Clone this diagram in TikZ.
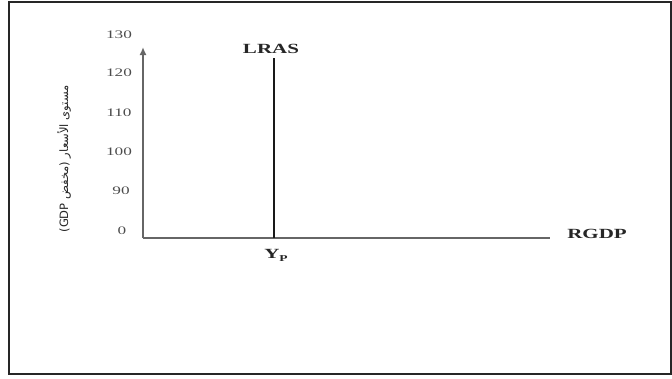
\documentclass[tikz,border=0pt]{standalone}
\usepackage{fontspec}
\setmainfont{Liberation Serif}
\newfontfamily\widefont[FakeStretch=1.5]{Liberation Serif}
\newfontfamily\arabicfont[Script=Arabic]{DejaVu Sans}
\TeXXeTstate=1
\usetikzlibrary{arrows.meta}
\tikzset{
  ticklabel/.style={font=\widefont\fontsize{11.5}{13}\selectfont, text=black!70},
  curvelabel/.style={font=\widefont\bfseries\fontsize{14}{16}\selectfont, text=black!85},
  axisline/.style={draw=black!60, line width=1.6pt},
}
\begin{document}
\begin{tikzpicture}[x=1pt, y=-1pt]
			\useasboundingbox (0,0) rectangle (672,378);
			\draw[black!85, line width=2pt] (9,2) rectangle (671,374);
			\draw[black!85, line width=1pt] (8,2) -- (8,374);
			\coordinate (O) at (143,238);
			\coordinate (ytop) at (143,47);
			\coordinate (xend) at (550,238);
			\coordinate (lbot) at (274,238);
			\coordinate (ltop) at (274,58);
			\draw[axisline, -{Latex[length=8pt, width=7pt]}] (O) -- (ytop);
			\draw[axisline] (O) -- (xend);
			\draw[black!90, line width=2pt] (lbot) -- (ltop);
			\node[ticklabel] (t130) at (119,35) {130};
			\node[ticklabel] (t120) at (119,73) {120};
			\node[ticklabel] (t110) at (119,113) {110};
			\node[ticklabel] (t100) at (119,152) {100};
			\node[ticklabel] (t90) at (121,191) {90};
			\node[ticklabel] (t0) at (122,231) {0};
			\node[curvelabel] (lras) at (271,49) {LRAS};
			\node[curvelabel] (rgdp) at (597,234) {RGDP};
			\node[curvelabel] (yp) at (276,255) {Y\raisebox{-3pt}{\fontsize{9}{10}\selectfont P}};
			\node[rotate=90, font=\fontsize{11.5}{13}\selectfont, text=black!85] (plabel) at (64,159)
				{\arabicfont\beginR مستوى الأسعار (مخفض \beginL GDP\endL)\endR};
		\end{tikzpicture}
\end{document}
